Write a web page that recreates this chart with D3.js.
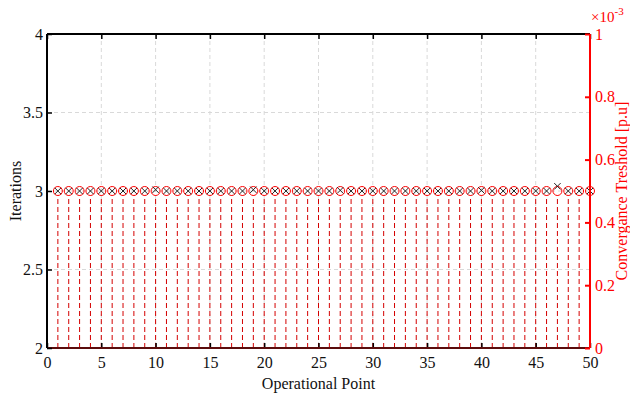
<!DOCTYPE html>
<html>
<head>
<meta charset="utf-8">
<script src="https://cdn.jsdelivr.net/npm/d3@7"></script>
<style>
  body { margin: 0; background: #fff; }
  svg { display: block; }
</style>
</head>
<body>
<svg id="chart" width="630" height="394"></svg>
<script>
// Operational points 1..50
const points = d3.range(1, 51);
// Iterations needed at each operational point
const iterations = [
  3, 3, 3, 3, 3, 3, 3, 3, 3, 3.008,
  3, 3, 3, 3, 3, 3, 3, 3, 3.008, 3,
  3, 3, 3, 3, 3, 3, 3.004, 3, 3, 3,
  3, 3, 3, 3, 3, 3, 3, 3, 3, 3.004,
  3, 3, 3, 3, 3, 3, 3.03, 3, 3, 3
];
// Convergence threshold at each operational point [p.u]
const threshold = points.map(() => 0.0005);

const xTicks = [0, 5, 10, 15, 20, 25, 30, 35, 40, 45, 50];
const yTicks = [2, 2.5, 3, 3.5, 4];
const yTickLabels = ["2", "2.5", "3", "3.5", "4"];
const y2Ticks = [0, 0.0002, 0.0004, 0.0006, 0.0008, 0.001];
const y2TickLabels = ["0", "0.2", "0.4", "0.6", "0.8", "1"];

const svg = d3.select("#chart");
const L = 47, R = 590, T = 34, B = 348;
const red = "#ff0000";
const serif = "'Liberation Serif', 'Times New Roman', serif";

const x = d3.scaleLinear().domain([0, 50]).range([L, R]);
const y = d3.scaleLinear().domain([2, 4]).range([B, T]);
const y2 = d3.scaleLinear().domain([0, 0.001]).range([B, T]);

// grid
const grid = svg.append("g").attr("stroke", "#d9d9d9").attr("stroke-dasharray", "4,3").attr("stroke-width", 1);
xTicks.slice(1, -1).forEach(t => grid.append("line")
  .attr("x1", x(t)).attr("x2", x(t)).attr("y1", T).attr("y2", B));
yTicks.slice(1, -1).forEach(t => grid.append("line")
  .attr("x1", L).attr("x2", R).attr("y1", y(t)).attr("y2", y(t)));

// stems
svg.append("g").selectAll("line").data(points).join("line")
  .attr("x1", d => x(d)).attr("x2", d => x(d))
  .attr("y1", y2(0)).attr("y2", (d, i) => y2(threshold[i]) + 4.5)
  .attr("stroke", "#d40000").attr("stroke-width", 1)
  .attr("stroke-dasharray", "5,3");

// stem heads
svg.append("g").selectAll("circle").data(points).join("circle")
  .attr("cx", d => x(d)).attr("cy", (d, i) => y2(threshold[i]))
  .attr("r", 4.5).attr("fill", "none").attr("stroke", red).attr("stroke-width", 1);

// iteration markers
const s = 3.2;
svg.append("g").selectAll("path").data(points).join("path")
  .attr("d", (d, i) => {
    const cx = x(d), cy = y(iterations[i]);
    return `M${cx - s},${cy - s}L${cx + s},${cy + s}M${cx - s},${cy + s}L${cx + s},${cy - s}`;
  })
  .attr("stroke", "#222").attr("stroke-width", 1).attr("fill", "none");

// bottom axis
const xAxis = svg.append("g").attr("transform", `translate(0,${B})`)
  .call(d3.axisBottom(x).tickValues(xTicks).tickSize(-5).tickPadding(9).tickFormat(d3.format("d")));
xAxis.select(".domain").remove();
xAxis.selectAll("line").attr("stroke", "#000").attr("stroke-width", 1.5);
xAxis.selectAll("text").style("font-family", serif).style("font-size", "16px").attr("fill", "#111");
svg.append("line").attr("x1", L).attr("x2", R).attr("y1", B).attr("y2", B)
  .attr("stroke", "#5a0c0c").attr("stroke-width", 2);

// top border with ticks
const xTop = svg.append("g").attr("transform", `translate(0,${T})`)
  .call(d3.axisTop(x).tickValues(xTicks).tickSize(-5).tickFormat(""));
xTop.select(".domain").remove();
xTop.selectAll("line").attr("stroke", "#000").attr("stroke-width", 1.5);
svg.append("line").attr("x1", L).attr("x2", R).attr("y1", T).attr("y2", T)
  .attr("stroke", "#000").attr("stroke-width", 2);

// left axis
const yAxis = svg.append("g").attr("transform", `translate(${L},0)`)
  .call(d3.axisLeft(y).tickValues(yTicks).tickSize(-5).tickPadding(4)
    .tickFormat((d, i) => yTickLabels[i]));
yAxis.select(".domain").remove();
yAxis.selectAll("line").attr("stroke", "#000").attr("stroke-width", 1.5);
yAxis.selectAll("text").style("font-family", serif).style("font-size", "16px").attr("fill", "#111");
svg.append("line").attr("x1", L).attr("x2", L).attr("y1", T).attr("y2", B)
  .attr("stroke", "#000").attr("stroke-width", 2);

// right axis
const y2Axis = svg.append("g").attr("transform", `translate(${R},0)`)
  .call(d3.axisRight(y2).tickValues(y2Ticks).tickSize(-5).tickPadding(5)
    .tickFormat((d, i) => y2TickLabels[i]));
y2Axis.select(".domain").remove();
y2Axis.selectAll("line").attr("stroke", red).attr("stroke-width", 2);
y2Axis.selectAll("text").style("font-family", serif).style("font-size", "16px").attr("fill", red);
svg.append("line").attr("x1", R).attr("x2", R).attr("y1", T).attr("y2", B)
  .attr("stroke", red).attr("stroke-width", 2);

// exponent
const ex = svg.append("text").attr("x", 591).attr("y", 22).attr("fill", red)
  .style("font-family", serif).style("font-size", "15px");
ex.append("tspan").text("×10");
ex.append("tspan").style("font-size", "11px").attr("dy", -7).text("-3");

// axis titles
svg.append("text").attr("x", (L + R) / 2).attr("y", 389).attr("text-anchor", "middle")
  .style("font-family", serif).style("font-size", "16px").attr("fill", "#111").text("Operational Point");
svg.append("text").attr("transform", `translate(21,${(T + B) / 2}) rotate(-90)`)
  .attr("text-anchor", "middle").style("font-family", serif).style("font-size", "16px")
  .attr("fill", "#111").text("Iterations");
svg.append("text").attr("transform", `translate(627,${(T + B) / 2}) rotate(-90)`)
  .attr("text-anchor", "middle").style("font-family", serif).style("font-size", "16px")
  .attr("fill", red).text("Convergance Treshold [p.u]");
</script>
</body>
</html>
